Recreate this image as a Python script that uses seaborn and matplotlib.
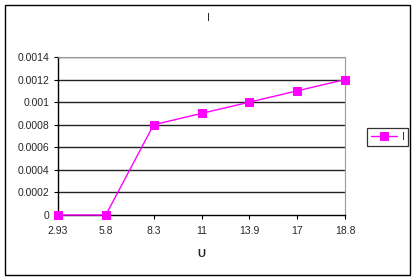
import matplotlib
matplotlib.use("Agg")
import matplotlib.pyplot as plt
import seaborn as sns
import pandas as pd
from matplotlib.patches import Rectangle

categories = ["2.93", "5.8", "8.3", "11", "13.9", "17", "18.8"]
current = [0, 0, 0.0008, 0.0009, 0.001, 0.0011, 0.0012]
y_ticks = [0, 0.0002, 0.0004, 0.0006, 0.0008, 0.001, 0.0012, 0.0014]
y_labels = ["0", "0.0002", "0.0004", "0.0006", "0.0008", "0.001", "0.0012", "0.0014"]

sns.set_style("white")
plt.rcParams['font.family'] = ['Liberation Sans', 'DejaVu Sans']

df = pd.DataFrame({"pos": range(len(categories)), "U": categories, "I": current})

fig = plt.figure(figsize=(4.17, 2.80), dpi=100)
ax = fig.add_axes([58/417, 1-215/280, (345-58)/417, (215-57)/280])

for t in y_ticks[1:]:
    ax.axhline(t, color="#222222", lw=1.0, zorder=1)

sns.lineplot(data=df, x="pos", y="I", ax=ax, color="#ff00ff", lw=1.0,
             marker="s", markersize=6, markeredgecolor="#ff00ff",
             label="I", zorder=3, clip_on=False)

ax.set_xlim(0, len(categories) - 1)
ax.set_ylim(0, 0.0014)
ax.set_xticks(range(len(categories)))
ax.set_xticklabels(categories)
ax.set_yticks(y_ticks)
ax.set_yticklabels(y_labels)
ax.tick_params(axis="both", labelsize=7.5, length=3, width=0.8, direction="out",
               color="black", left=True, bottom=True)
ax.tick_params(axis="x", pad=5)
ax.tick_params(axis="y", pad=3)
for s in ["left", "bottom"]:
    ax.spines[s].set_color("black")
    ax.spines[s].set_linewidth(1.0)
for s in ["top", "right"]:
    ax.spines[s].set_color("#999999")
    ax.spines[s].set_linewidth(0.8)

ax.set_xlabel("U", fontsize=8, fontweight="bold", labelpad=9)
ax.set_ylabel("")
fig.text(208/417, 1 - 18/280, "I", ha="center", va="center", fontsize=8)

leg = ax.legend(loc="center left", bbox_to_anchor=(367/417, 1-137/280), bbox_transform=fig.transFigure,
                frameon=True, fontsize=7.5, handlelength=2.5, borderpad=0.35,
                handletextpad=0.5, fancybox=False, borderaxespad=0)
leg.get_frame().set_edgecolor("black")
leg.get_frame().set_linewidth(0.9)

fig.patches.append(Rectangle((5/417, 5/280), 405/417, 270/280, transform=fig.transFigure,
                             fill=False, edgecolor="black", lw=1.0))

fig.savefig("out.png", dpi=100)
